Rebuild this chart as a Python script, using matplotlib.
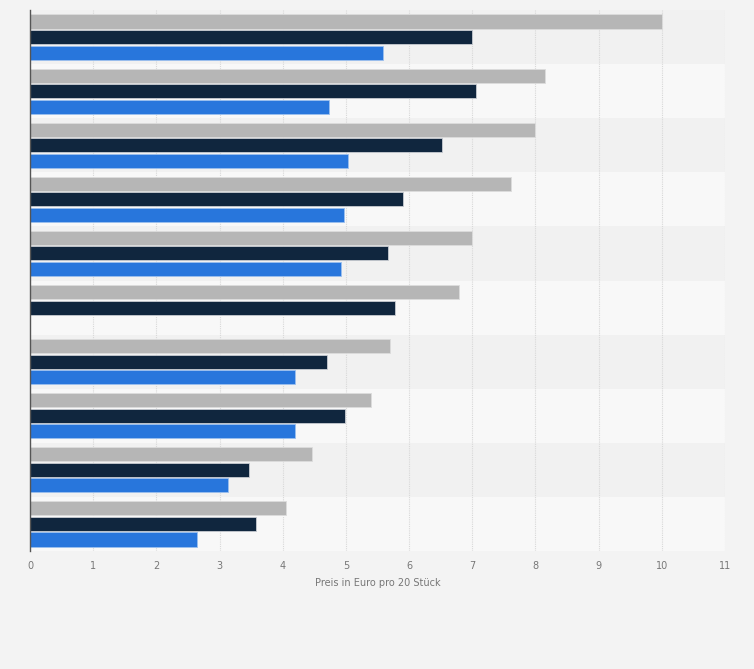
import numpy as np
import matplotlib
matplotlib.use('Agg')
import matplotlib.pyplot as plt

# prices in euro per 20 pieces, groups from top to bottom
GRAY = [10.0, 8.15, 8.0, 7.61, 7.0, 6.79, 5.70, 5.39, 4.47, 4.05]
NAVY = [7.0, 7.06, 6.52, 5.90, 5.66, 5.77, 4.70, 4.98, 3.47, 3.57]
BLUE = [5.59, 4.74, 5.04, 4.97, 4.93, np.nan, 4.19, 4.19, 3.14, 2.64]
XTICKS = list(range(0, 12))
XLABEL = 'Preis in Euro pro 20 Stück'

n = len(GRAY)
pos = np.arange(n)

fig = plt.figure(figsize=(7.54, 6.69), dpi=100, facecolor='#f3f3f3')
ax = fig.add_axes([30/754, 1 - 551/669, 695/754, 541/669])
ax.set_facecolor('#f3f3f3')

# alternating row bands
for i in range(n):
    ax.axhspan(i - 0.5, i + 0.5, color='#f1f1f1' if i % 2 == 0 else '#f8f8f8', lw=0, zorder=0)

h, off = 0.26, 0.287
ax.barh(pos - off, GRAY, height=h, color='#b6b6b6', edgecolor='#dcdcdc', lw=0.6, zorder=3)
ax.barh(pos, NAVY, height=h, color='#10263e', edgecolor='#c8ccd2', lw=0.6, zorder=3)
ax.barh(pos + off, BLUE, height=h, color='#2876dc', edgecolor='#9cc0ee', lw=0.6, zorder=3)

ax.set_xlim(0, 11)
ax.set_ylim(n - 0.5, -0.5)
ax.set_xticks(XTICKS)
ax.set_xticklabels([str(t) for t in XTICKS], fontsize=7, color='#777777')
ax.set_yticks([])
for x in XTICKS[1:]:
    ax.axvline(x, color='#d8d8d8', lw=0.8, ls=(0, (1, 1)), zorder=1)
ax.tick_params(axis='x', length=0, pad=7)
for s in ('top', 'right', 'bottom'):
    ax.spines[s].set_visible(False)
ax.spines['left'].set_color('#555555')
ax.spines['left'].set_linewidth(1.0)
ax.spines['left'].set_zorder(4)
ax.set_xlabel(XLABEL, fontsize=7, color='#777777', labelpad=5)

plt.savefig('out.png', dpi=100, facecolor=fig.get_facecolor())
